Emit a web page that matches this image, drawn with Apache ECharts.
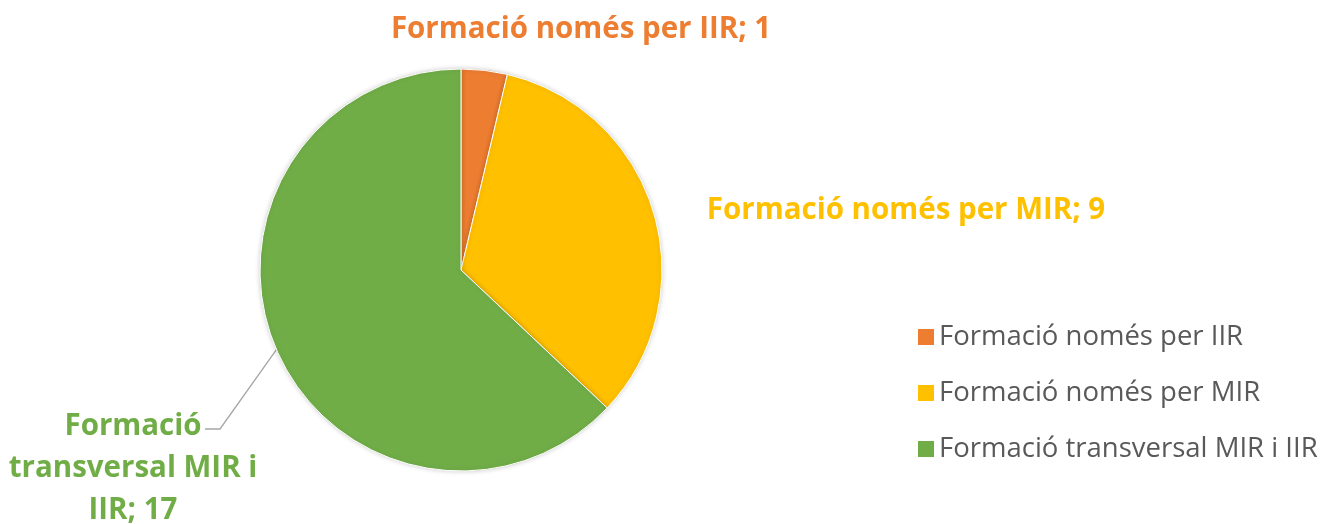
<!DOCTYPE html>
<html>
<head>
<meta charset="utf-8">
<script src="https://cdn.jsdelivr.net/npm/echarts@6/dist/echarts.min.js"></script>
<style>
  html, body { margin: 0; padding: 0; background: #fff; }
  #main { width: 1326px; height: 524px; }
</style>
</head>
<body>
<div id="main"></div>
<script>
var categories = ['Formació només per IIR', 'Formació només per MIR', 'Formació transversal MIR i IIR'];
var values = [1, 9, 17];
var colors = ['#ED7D31', '#FFC000', '#70AD47'];
// label text as shown next to each slice
var labelTexts = ['Formació només per IIR; 1', 'Formació només per MIR; 9', 'Formació\ntransversal MIR i\nIIR; 17'];

var font = '"Open Sans", Lato, sans-serif';

// where each label sits (centre of the text block)
var labelPos = [
    {x: 581, y: 30},
    {x: 906, y: 211},
    {x: 133, y: 469}
];
var lineH = 42;

var chart = echarts.init(document.getElementById('main'));

var data = [];
for (var i = 0; i < values.length; i++) {
    data.push({
        name: categories[i],
        value: values[i],
        itemStyle: {color: colors[i]},
        label: {color: colors[i]},
        labelLine: {show: i === 2}
    });
}

chart.setOption({
    backgroundColor: '#fff',
    animation: false,
    legend: {
        orient: 'vertical',
        left: 911,
        top: 318,
        icon: 'rect',
        itemWidth: 18,
        itemHeight: 18,
        itemGap: 28,
        textStyle: {
            color: '#595959',
            fontSize: 27.5,
            fontFamily: font,
            padding: [0, 0, 0, -1]
        },
        data: categories
    },
    series: [{
        type: 'pie',
        center: [461, 270],
        radius: 201,
        startAngle: 90,
        clockwise: true,
        data: data,
        itemStyle: {
            borderColor: '#fff',
            borderWidth: 1,
            shadowBlur: 5,
            shadowColor: 'rgba(0,0,0,0.18)'
        },
        label: {
            show: true,
            position: 'outside',
            fontFamily: font,
            fontWeight: 'bold',
            fontSize: 29.5,
            lineHeight: lineH,
            align: 'center',
            overflow: 'none',
            edgeDistance: 0,
            formatter: function (p) {
                return labelTexts[p.dataIndex];
            }
        },
        labelLine: {
            length: 20,
            length2: 15,
            lineStyle: {color: '#A6A6A6', width: 1.3}
        },
        labelLayout: function (params) {
            var pos = labelPos[params.dataIndex];
            var out = {
                x: pos.x,
                y: pos.y,
                align: 'center',
                verticalAlign: 'middle'
            };
            if (params.dataIndex === 2 && params.labelLinePoints) {
                var anchor = params.labelLinePoints[0];
                var firstY = pos.y - params.labelRect.height / 2 + lineH / 2 + 2;
                var end = [pos.x + 72, firstY];
                var elbow = [end[0] + 15, firstY];
                out.labelLinePoints = [anchor, elbow, end];
            }
            return out;
        }
    }]
});
</script>
</body>
</html>
